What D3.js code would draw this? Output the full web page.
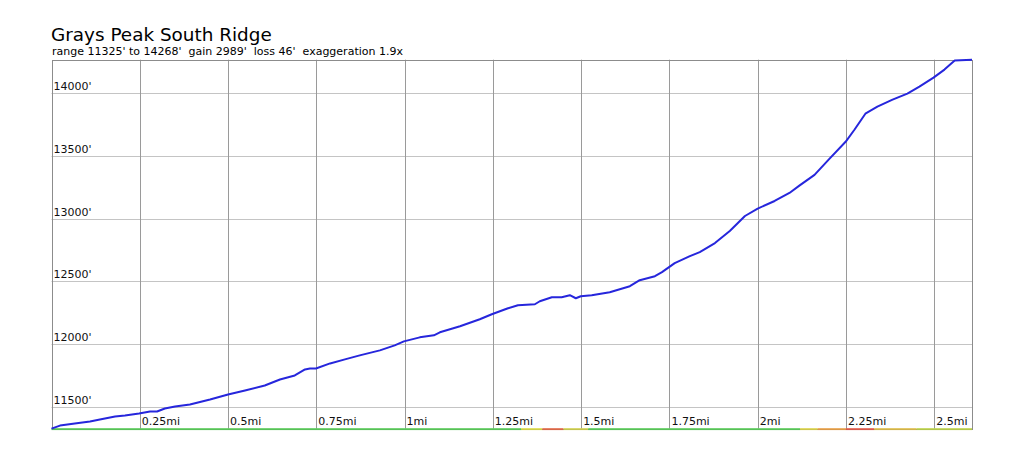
<!DOCTYPE html>
<html>
<head>
<meta charset="utf-8">
<script src="https://cdn.jsdelivr.net/npm/d3@7"></script>
<style>
  html, body { margin: 0; padding: 0; background: #fff; }
  svg { display: block; font-family: "DejaVu Sans", sans-serif; }
  text { white-space: pre; }
</style>
</head>
<body>
<svg id="chart" width="1024" height="452"></svg>
<script>
const TITLE    = 'Grays Peak South Ridge';
const SUBTITLE = "range 11325' to 14268'  gain 2989'  loss 46'  exaggeration 1.9x";

// distance along route (mi) and elevation (ft)
const distMi = [
    0, 0.024, 0.066, 0.109, 0.137, 0.18, 0.208, 0.248, 0.279, 0.299,
    0.321, 0.35, 0.392, 0.449, 0.5, 0.548, 0.604, 0.647, 0.689, 0.718,
    0.732, 0.749, 0.789, 0.831, 0.873, 0.93, 0.972, 0.998, 1.043, 1.083,
    1.1, 1.157, 1.213, 1.247, 1.293, 1.321, 1.369, 1.383, 1.417, 1.445,
    1.468, 1.485, 1.499, 1.53, 1.581, 1.638, 1.666, 1.709, 1.729, 1.765,
    1.808, 1.836, 1.879, 1.921, 1.964, 2.0, 2.048, 2.09, 2.119, 2.161,
    2.203, 2.249, 2.274, 2.305, 2.339, 2.382, 2.424, 2.458, 2.498, 2.529,
    2.558, 2.607
];
const elevFt = [
    11325, 11349, 11365, 11381, 11397, 11421, 11429, 11445, 11461, 11461,
    11485, 11501, 11517, 11557, 11597, 11629, 11669, 11717, 11749, 11797,
    11805, 11805, 11845, 11877, 11909, 11949, 11989, 12021, 12053, 12069,
    12093, 12141, 12197, 12237, 12285, 12309, 12317, 12341, 12373, 12373,
    12389, 12365, 12381, 12389, 12413, 12461, 12509, 12541, 12573, 12645,
    12701, 12733, 12805, 12901, 13021, 13080, 13141, 13205, 13265, 13349,
    13477, 13613, 13709, 13837, 13893, 13949, 13997, 14053, 14125, 14189,
    14261, 14268
];

const xTicks = [0.25, 0.5, 0.75, 1, 1.25, 1.5, 1.75, 2, 2.25, 2.5];
const xTickLabels = ['0.25mi', '0.5mi', '0.75mi', '1mi', '1.25mi', '1.5mi', '1.75mi', '2mi', '2.25mi', '2.5mi'];
const yTicks = [11500, 12000, 12500, 13000, 13500, 14000];

// grade strip along the bottom edge: segment starts (mi) and colours
const stripStart = [0, 1.33, 1.39, 1.45, 1.52, 2.12, 2.17, 2.25, 2.33, 2.45];
const stripColor = ['#4fc84f', '#d8d83c', '#e0603c', '#cccc44', '#4fc84f',
                    '#d8d040', '#e89a3c', '#e05040', '#dcb840', '#b8d040'];

const LEFT   = 51.5;
const RIGHT  = 972;
const TOP    = 59.7;
const BOTTOM = 428.6;

const svg = d3.select('#chart');

const x = d3.scaleLinear()
    .domain([0, d3.max(distMi)])
    .range([LEFT, RIGHT]);
const y = d3.scaleLinear()
    .domain([d3.min(elevFt), d3.max(elevFt)])
    .range([BOTTOM, TOP]);

// title block
svg.append('text')
    .attr('x', 51)
    .attr('y', 41)
    .attr('font-size', 18.4)
    .attr('fill', '#000')
    .text(TITLE);
svg.append('text')
    .attr('x', 52)
    .attr('y', 55)
    .attr('font-size', 11)
    .attr('fill', '#000')
    .text(SUBTITLE);

// horizontal grid
svg.append('g')
    .selectAll('line')
    .data(yTicks)
    .join('line')
    .attr('x1', LEFT)
    .attr('x2', RIGHT)
    .attr('y1', d => Math.round(y(d)) + 0.5)
    .attr('y2', d => Math.round(y(d)) + 0.5)
    .attr('stroke', '#c4c4c4')
    .attr('stroke-width', 1);

// vertical grid
svg.append('g')
    .selectAll('line')
    .data(xTicks)
    .join('line')
    .attr('x1', d => Math.round(x(d)) + 0.5)
    .attr('x2', d => Math.round(x(d)) + 0.5)
    .attr('y1', TOP)
    .attr('y2', BOTTOM)
    .attr('stroke', '#9a9a9a')
    .attr('stroke-width', 1);

// plot border
svg.append('rect')
    .attr('x', Math.round(LEFT) + 0.5)
    .attr('y', Math.round(TOP) + 0.5)
    .attr('width', Math.round(RIGHT) - Math.round(LEFT))
    .attr('height', Math.round(BOTTOM) - Math.round(TOP))
    .attr('fill', 'none')
    .attr('stroke', '#8c8c8c');

// y labels sit just above their gridline
svg.append('g')
    .selectAll('text')
    .data(yTicks)
    .join('text')
    .attr('x', LEFT + 2)
    .attr('y', d => y(d) - 3)
    .attr('font-size', 11)
    .attr('fill', '#111')
    .text(d => d + "'");

// x labels sit right of their gridline, at the bottom
svg.append('g')
    .selectAll('text')
    .data(xTicks)
    .join('text')
    .attr('x', d => x(d) + 2)
    .attr('y', BOTTOM - 3.5)
    .attr('font-size', 11)
    .attr('fill', '#111')
    .text((d, i) => xTickLabels[i]);

// grade strip
svg.append('g')
    .selectAll('rect')
    .data(stripStart)
    .join('rect')
    .attr('x', d => x(d))
    .attr('y', BOTTOM - 0.5)
    .attr('width', (d, i) => x(i + 1 < stripStart.length ? stripStart[i + 1] : d3.max(distMi)) - x(d))
    .attr('height', 2)
    .attr('fill', (d, i) => stripColor[i])
    .attr('opacity', 0.85);

// elevation profile
const line = d3.line()
    .x((d, i) => x(distMi[i]))
    .y(d => y(d));

svg.append('path')
    .datum(elevFt)
    .attr('d', line)
    .attr('fill', 'none')
    .attr('stroke', '#2626dc')
    .attr('stroke-width', 2)
    .attr('stroke-linejoin', 'round');
</script>
</body>
</html>
